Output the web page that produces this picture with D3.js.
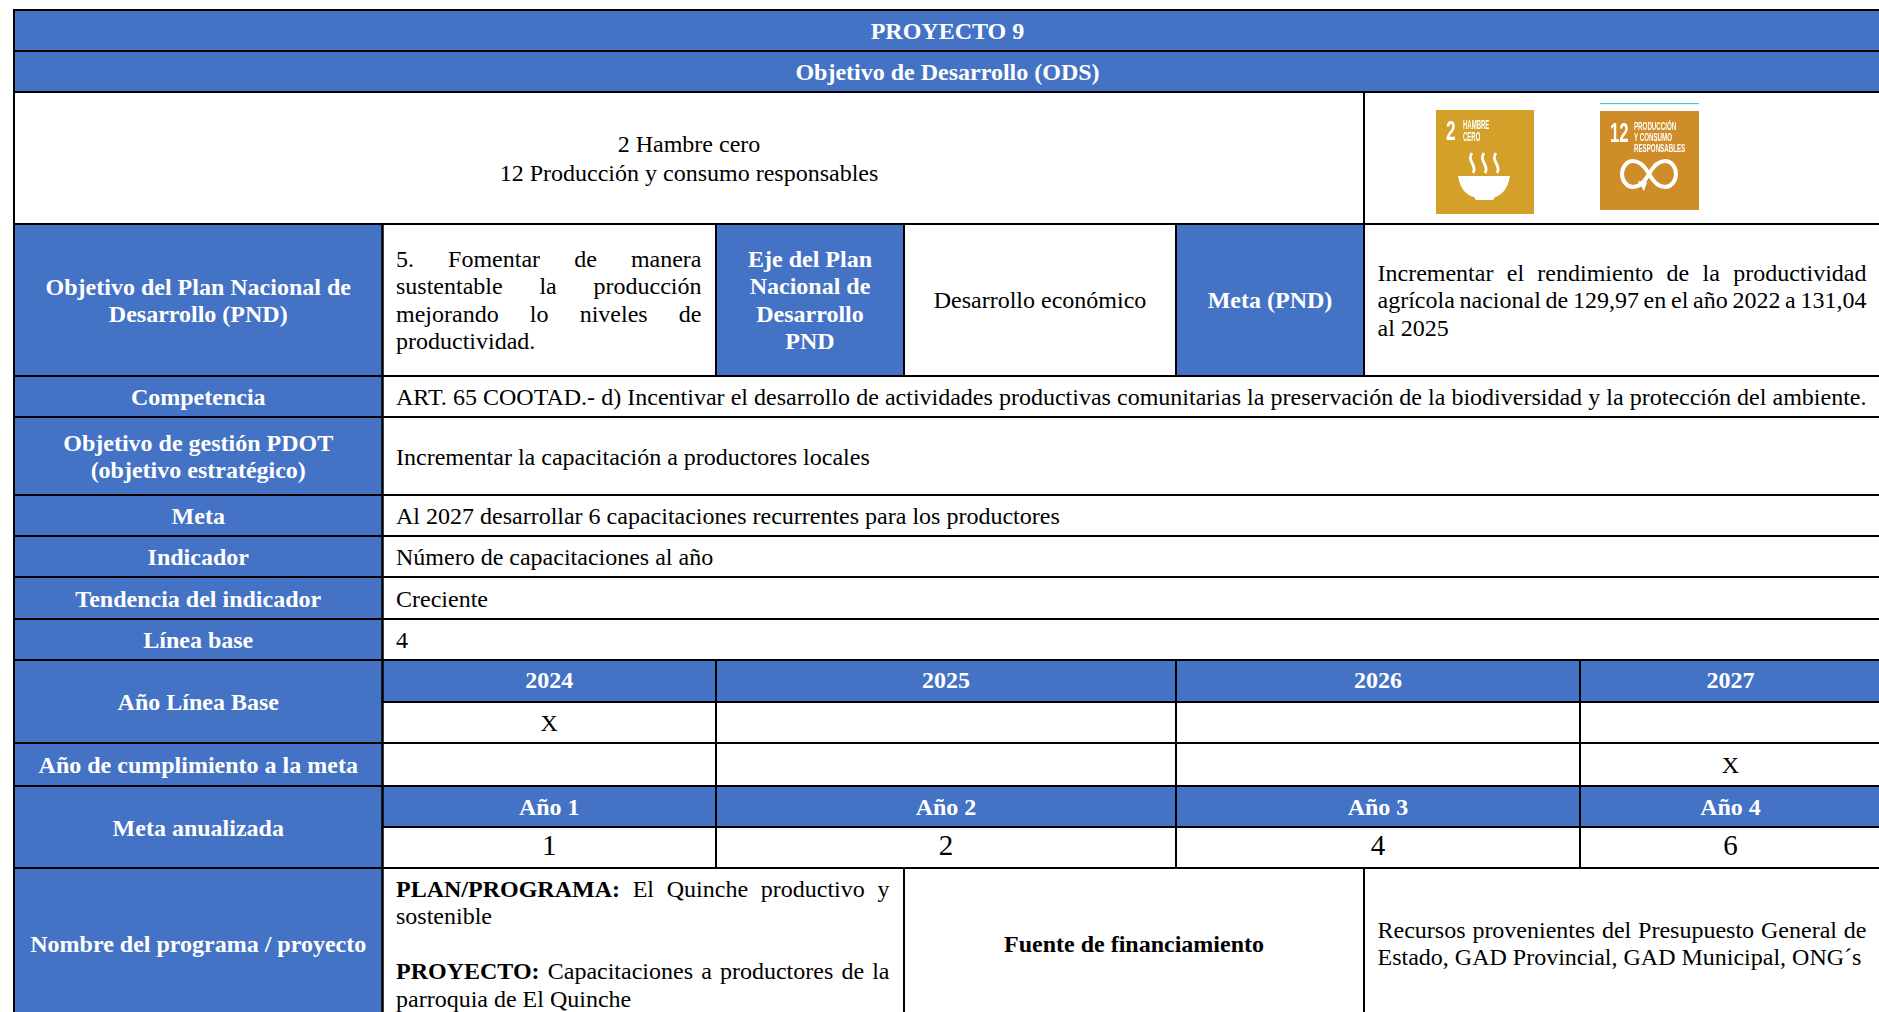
<!DOCTYPE html>
<html><head><meta charset="utf-8">
<script src="https://cdn.jsdelivr.net/npm/d3@7"></script>
<style>html,body{margin:0;padding:0;background:#fff;overflow:hidden}svg{display:block}</style>
</head><body><svg id="c" width="1879" height="1012"></svg>
<script>
// ---- content ----
const title = "PROYECTO 9";
const subtitle = "Objetivo de Desarrollo (ODS)";
const odsGoals = ["2 Hambre cero", "12 Producción y consumo responsables"];
const years = ["2024", "2025", "2026", "2027"];
const baseYearMarks = ["X", "", "", ""];
const targetYearMarks = ["", "", "", "X"];
const annualLabels = ["Año 1", "Año 2", "Año 3", "Año 4"];
const annualTargets = [1, 2, 4, 6];
const rowLabels = ["Competencia", "Meta", "Indicador", "Tendencia del indicador", "Línea base"];
const rowValues = [
  "ART. 65 COOTAD.- d) Incentivar el desarrollo de actividades productivas comunitarias la preservación de la biodiversidad y la protección del ambiente.",
  "Al 2027 desarrollar 6 capacitaciones recurrentes para los productores",
  "Número de capacitaciones al año",
  "Creciente",
  "4"
];

// ---- layout ----
const X = [14, 382.5, 716, 904, 1176, 1364, 1580, 1881];
const Y = [10, 51, 92, 224, 376, 417, 495, 536, 577, 619, 660, 702, 743, 786, 827, 868, 1021];
const BLUE = "#4472c4";
const FONT = "'Liberation Serif','Times New Roman',serif";
const FS = 24, LH = 27.5, PAD = 13.5, PAD_R = 14.5;
const svg = d3.select("#c");
const gFill = svg.append("g"), gImg = svg.append("g"), gLine = svg.append("g"), gText = svg.append("g");

function run(t, s){ return {t, b:false, ...(s||{})}; }
// cell: column span c0..c1, row span r0..r1
function cell(c0,c1,r0,r1,lines,opt){
  opt = opt||{};
  const x0=X[c0],x1=X[c1],y0=Y[r0],y1=Y[r1];
  const head = !!opt.head;
  gFill.append("rect").attr("x",x0).attr("y",y0).attr("width",x1-x0).attr("height",y1-y0)
    .attr("fill",head?BLUE:"#fff");
  gLine.append("rect").attr("x",x0).attr("y",y0).attr("width",x1-x0).attr("height",y1-y0)
    .attr("fill","none").attr("stroke","#000").attr("stroke-width",opt.sw||2);
  const align = opt.align || (head?"center":"left");
  const fs = opt.fs||FS;
  const lh = opt.lh||LH;
  const n = lines.length;
  const cy = (y0+y1)/2 + (opt.dy||0);
  lines.forEach((ln,i)=>{
    const y = cy + (i-(n-1)/2)*lh + fs*0.36;
    const t = gText.append("text").attr("y",y).attr("font-family",FONT).attr("font-size",fs)
      .attr("fill",head?"#fff":"#000").attr("font-weight",(head||opt.bold)?"bold":"normal")
      .style("white-space","pre");
    const runs = Array.isArray(ln)?ln:[run(ln)];
    runs.forEach(r=>t.append("tspan").attr("font-weight",r.b?"bold":null).text(r.t));
    const text = runs.map(r=>r.t).join("");
    const just = opt.justify && (opt.justify===true ? i<n-1 : opt.justify.includes(i));
    if(align==="center"){ t.attr("x",(x0+x1)/2).attr("text-anchor","middle"); }
    else {
      t.attr("x",x0+PAD);
      if(just){
        const gaps=(text.match(/ /g)||[]).length;
        const w=x1-x0-PAD-PAD_R;
        const len=t.node().getComputedTextLength();
        if(gaps) t.attr("word-spacing",(w-len)/gaps);
      }
    }
  });
}

// header rows
cell(0,7,0,1,[title],{head:true});
cell(0,7,1,2,[subtitle],{head:true});
cell(0,5,2,3,odsGoals,{align:"center",lh:28.5});
cell(5,7,2,3,[]);

// plan row
cell(0,1,3,4,["Objetivo del Plan Nacional de","Desarrollo (PND)"],{head:true});
cell(1,2,3,4,["5.  Fomentar  de  manera","sustentable la producción","mejorando lo niveles de","productividad."],{justify:true,dy:-0.5});
cell(2,3,3,4,["Eje del Plan","Nacional de","Desarrollo","PND"],{head:true,dy:-0.5});
cell(3,4,3,4,["Desarrollo económico"],{align:"center",dy:-1});
cell(4,5,3,4,["Meta (PND)"],{head:true,dy:-1});
cell(5,7,3,4,["Incrementar el rendimiento de la productividad","agrícola nacional de 129,97 en el año 2022 a 131,04","al 2025"],{justify:true,dy:-0.5});

// simple rows
cell(0,1,4,5,[rowLabels[0]],{head:true});
cell(1,7,4,5,[rowValues[0]],{justify:[0]});
cell(0,1,5,6,["Objetivo de gestión PDOT","(objetivo estratégico)"],{head:true});
cell(1,7,5,6,["Incrementar la capacitación a productores locales"]);
[1,2,3,4].forEach(i=>{
  cell(0,1,5+i,6+i,[rowLabels[i]],{head:true});
  cell(1,7,5+i,6+i,[rowValues[i]]);
});

// year grid
const yearCols = [[1,2],[2,4],[4,6],[6,7]];
cell(0,1,10,12,["Año Línea Base"],{head:true});
yearCols.forEach((c,i)=>{
  cell(c[0],c[1],10,11,[years[i]],{head:true,dy:-1.5});
  cell(c[0],c[1],11,12,[baseYearMarks[i]],{align:"center"});
});
cell(0,1,12,13,["Año de cumplimiento a la meta"],{head:true});
yearCols.forEach((c,i)=> cell(c[0],c[1],12,13,[targetYearMarks[i]],{align:"center"}));
cell(0,1,13,15,["Meta anualizada"],{head:true});
yearCols.forEach((c,i)=>{
  cell(c[0],c[1],13,14,[annualLabels[i]],{head:true});
  cell(c[0],c[1],14,15,[String(annualTargets[i])],{align:"center",fs:29,dy:-3});
});

// programme row
cell(0,1,15,16,["Nombre del programa / proyecto"],{head:true,dy:-1});
cell(1,3,15,16,[
  [run("PLAN/PROGRAMA:",{b:true}),run(" El Quinche productivo y")],
  "sostenible","",
  [run("PROYECTO:",{b:true}),run(" Capacitaciones a productores de la")],
  "parroquia de El Quinche"],{justify:[0,3],dy:-1.5});
cell(3,5,15,16,["Fuente de financiamiento"],{align:"center",bold:true,dy:-1});
cell(5,7,15,16,["Recursos provenientes del Presupuesto General de","Estado, GAD Provincial, GAD Municipal, ONG´s"],{justify:[0],dy:-1.5});

// ODS icons
const defs = svg.append("defs");
defs.append("filter").attr("id","soft").append("feGaussianBlur").attr("stdDeviation",0.55);
function icon(x,y,w,h,color){
  const g=gImg.append("g").attr("transform",`translate(${x},${y})`).attr("filter","url(#soft)");
  g.append("rect").attr("width",w).attr("height",h).attr("fill",color);
  return g;
}
function label(g,x,y,fs,t,scaleX){
  g.append("text").attr("transform",`translate(${x},${y}) scale(${scaleX},1)`)
   .attr("font-family","'Liberation Sans',sans-serif").attr("font-size",fs).attr("fill","#fff").attr("font-weight","bold").text(t);
}
const a=icon(1436,110,98,104,"#d3a029");
label(a,10,30,28,"2",0.62);
label(a,27,19,12.5,"HAMBRE",0.48);
label(a,27,31,12.5,"CERO",0.48);
a.append("path").attr("d","M22 66 H74 C72 80 64 86 59 87 L57 90 H40 L38 87 C32 86 24 80 22 66Z").attr("fill","#fff");
[36,48,60].forEach(dx=>a.append("path").attr("d",`M${dx} 43 c-6 8 6 12 1 20`).attr("fill","none").attr("stroke","#fff").attr("stroke-width",2.8));
gImg.append("rect").attr("x",1600).attr("y",103).attr("width",99).attr("height",1.2).attr("fill","#4fc3e0");
const b=icon(1600,111,99,99,"#cf8d2a");
label(b,10,31,27,"12",0.62);
label(b,34,19,10,"PRODUCCIÓN",0.62);
label(b,34,30,10,"Y CONSUMO",0.62);
label(b,34,41,10,"RESPONSABLES",0.62);
b.append("path").attr("d","M49 63 C44 54 38 50 33 50 C26 50 22 57 22 63 C22 70 27 76 33 76 C38 76 44 72 49 63 C54 54 60 50 65 50 C72 50 76 57 76 63 C76 70 71 76 65 76 C60 76 54 72 49 63Z")
 .attr("fill","none").attr("stroke","#fff").attr("stroke-width",4);
b.append("path").attr("d","M38 70 L47 71 L44 80Z").attr("fill","#fff");
</script></body></html>
